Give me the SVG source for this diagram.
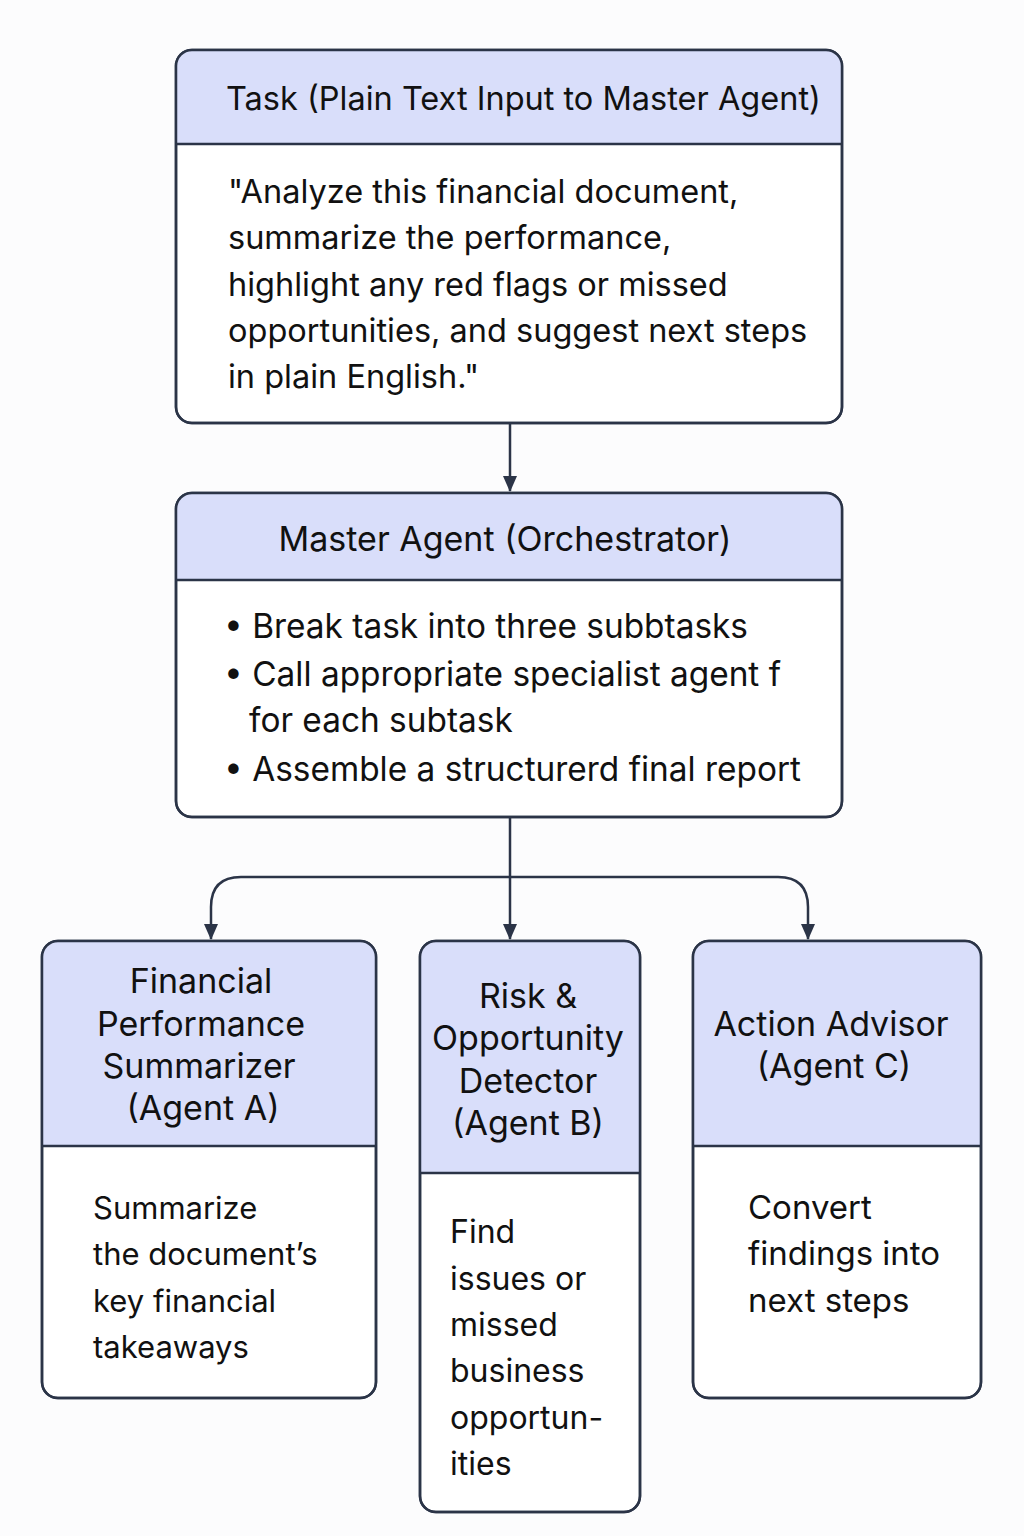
<svg xmlns="http://www.w3.org/2000/svg" width="1024" height="1536" viewBox="0 0 1024 1536">
<defs>
<style>
.box{fill:#ffffff;stroke:#2b3447;stroke-width:2.5}
.hdr{fill:#d9defa}
.div{stroke:#2b3447;stroke-width:2.5}
.t{font-family:Inter,"Noto Sans",sans-serif;font-size:32.5px;fill:#111111}
.h{font-size:34px}
.m{font-size:33.4px}
.s{font-size:31px}
.b{font-size:32px}
.cc{font-size:33px}
.c{text-anchor:middle}
.con{fill:none;stroke:#2b3447;stroke-width:2.5}
</style>
<marker id="ah" viewBox="0 0 16 14" refX="15" refY="7" markerWidth="16" markerHeight="14" markerUnits="userSpaceOnUse" orient="auto">
<path d="M0,0 L16,7 L0,14 Z" fill="#2b3447"/>
</marker>
<clipPath id="c1"><rect x="176" y="50" width="666" height="373" rx="16"/></clipPath>
<clipPath id="c2"><rect x="176" y="493" width="666" height="324" rx="16"/></clipPath>
<clipPath id="c3"><rect x="42" y="941" width="334" height="457" rx="16"/></clipPath>
<clipPath id="c4"><rect x="420" y="941" width="220" height="571" rx="16"/></clipPath>
<clipPath id="c5"><rect x="693" y="941" width="288" height="457" rx="16"/></clipPath>
</defs>
<rect width="1024" height="1536" fill="#fcfcfd"/>

<g id="connectors">
<path class="con" d="M510,423 V491" marker-end="url(#ah)"/>
<path class="con" d="M510,817 V939" marker-end="url(#ah)"/>
<path class="con" d="M510,877 H241 Q211,877 211,907 V939" marker-end="url(#ah)"/>
<path class="con" d="M510,877 H778 Q808,877 808,907 V939" marker-end="url(#ah)"/>
</g>

<g id="task">
<rect class="box" x="176" y="50" width="666" height="373" rx="16"/>
<rect class="hdr" x="176" y="50" width="666" height="94" clip-path="url(#c1)"/>
<rect x="176" y="50" width="666" height="373" rx="16" fill="none" stroke="#2b3447" stroke-width="2.5"/>
<line class="div" x1="176" y1="144" x2="842" y2="144"/>
<text class="t" x="226" y="110">Task (Plain Text Input to Master Agent)</text>
<text class="t" x="228" y="203">"Analyze this financial document,</text>
<text class="t" x="228" y="249">summarize the performance,</text>
<text class="t" x="228" y="296">highlight any red flags or missed</text>
<text class="t" x="228" y="342">opportunities, and suggest next steps</text>
<text class="t" x="228" y="388">in plain English."</text>
</g>

<g id="master">
<rect class="box" x="176" y="493" width="666" height="324" rx="16"/>
<rect class="hdr" x="176" y="493" width="666" height="87" clip-path="url(#c2)"/>
<rect x="176" y="493" width="666" height="324" rx="16" fill="none" stroke="#2b3447" stroke-width="2.5"/>
<line class="div" x1="176" y1="580" x2="842" y2="580"/>
<text class="t h c" x="505" y="551">Master Agent (Orchestrator)</text>
<text class="t m" x="224" y="638">• Break task into three subbtasks</text>
<text class="t m" x="224" y="686">• Call appropriate specialist agent f</text>
<text class="t m" x="249" y="732">for each subtask</text>
<text class="t m" x="224" y="781">• Assemble a structurerd final report</text>
</g>

<g id="agentA">
<rect class="box" x="42" y="941" width="334" height="457" rx="16"/>
<rect class="hdr" x="42" y="941" width="334" height="205" clip-path="url(#c3)"/>
<rect x="42" y="941" width="334" height="457" rx="16" fill="none" stroke="#2b3447" stroke-width="2.5"/>
<line class="div" x1="42" y1="1146" x2="376" y2="1146"/>
<text class="t h c" x="201" y="993">Financial</text>
<text class="t h c" x="201" y="1036">Performance</text>
<text class="t h c" x="199" y="1078">Summarizer</text>
<text class="t h c" x="203" y="1120">(Agent A)</text>
<text class="t s" x="93" y="1219">Summarize</text>
<text class="t s" x="93" y="1265">the document’s</text>
<text class="t s" x="93" y="1312">key financial</text>
<text class="t s" x="93" y="1358">takeaways</text>
</g>

<g id="agentB">
<rect class="box" x="420" y="941" width="220" height="571" rx="16"/>
<rect class="hdr" x="420" y="941" width="220" height="232" clip-path="url(#c4)"/>
<rect x="420" y="941" width="220" height="571" rx="16" fill="none" stroke="#2b3447" stroke-width="2.5"/>
<line class="div" x1="420" y1="1173" x2="640" y2="1173"/>
<text class="t h c" x="528" y="1008">Risk &amp;</text>
<text class="t h c" x="528" y="1050">Opportunity</text>
<text class="t h c" x="528" y="1093">Detector</text>
<text class="t h c" x="528" y="1135">(Agent B)</text>
<text class="t b" x="450" y="1243">Find</text>
<text class="t b" x="450" y="1290">issues or</text>
<text class="t b" x="450" y="1336">missed</text>
<text class="t b" x="450" y="1382">business</text>
<text class="t b" x="450" y="1429">opportun-</text>
<text class="t b" x="450" y="1475">ities</text>
</g>

<g id="agentC">
<rect class="box" x="693" y="941" width="288" height="457" rx="16"/>
<rect class="hdr" x="693" y="941" width="288" height="205" clip-path="url(#c5)"/>
<rect x="693" y="941" width="288" height="457" rx="16" fill="none" stroke="#2b3447" stroke-width="2.5"/>
<line class="div" x1="693" y1="1146" x2="981" y2="1146"/>
<text class="t h c" x="831" y="1036">Action Advisor</text>
<text class="t h c" x="834" y="1078">(Agent C)</text>
<text class="t cc" x="748" y="1219">Convert</text>
<text class="t cc" x="748" y="1265">findings into</text>
<text class="t cc" x="748" y="1312">next steps</text>
</g>
</svg>
